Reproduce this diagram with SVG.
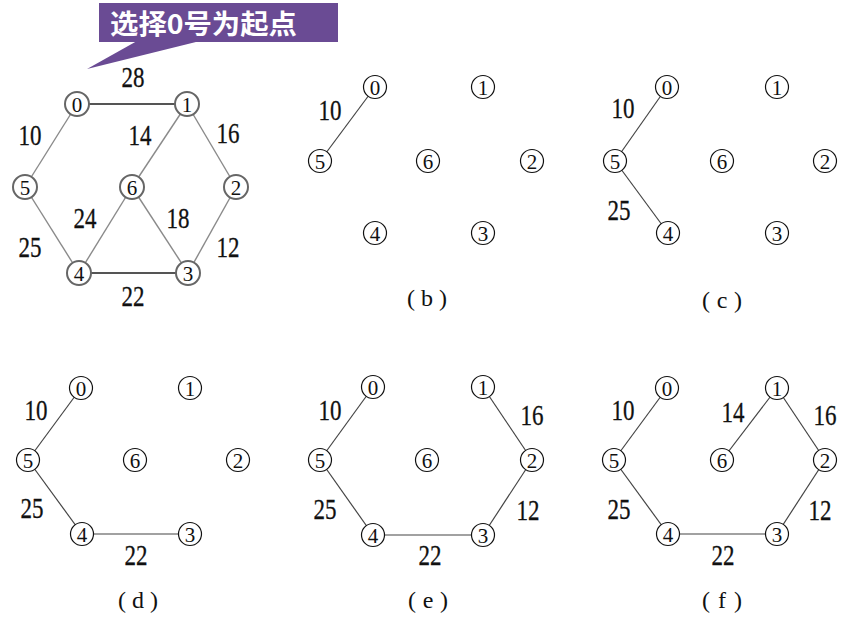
<svg xmlns="http://www.w3.org/2000/svg" width="865" height="634" viewBox="0 0 865 634">
<style>
.e{stroke:#444;stroke-width:1.2;fill:none}
.ea{stroke:#8a8a8a;stroke-width:1.4;fill:none}
.eh{stroke:#555;stroke-width:2;fill:none}
.n circle{fill:#fff;stroke:#111;stroke-width:1.2}
.na circle{fill:#fff;stroke:#666;stroke-width:2}
.n text,.na text{font-family:"Liberation Serif",serif;font-size:21px;text-anchor:middle;fill:#111}
.w{font-family:"Liberation Serif",serif;font-size:30px;text-anchor:middle;fill:#111;stroke:#111;stroke-width:0.3}
.cap{font-family:"Liberation Serif",serif;font-size:24px;text-anchor:middle;fill:#111}
</style>
<rect width="865" height="634" fill="#fff"/>
<g id="callout">
<rect x="99" y="3" width="239" height="39" fill="#6a4b94"/>
<polygon points="137,41 200,41 87,69" fill="#6a4b94"/>
<text x="110" y="34" font-family="Noto Sans CJK SC,sans-serif" font-weight="bold" font-size="27" fill="#fff" textLength="187" lengthAdjust="spacingAndGlyphs">选择0号为起点</text>
</g>
<g id="connectors">
<line class="eh" x1="77" y1="104" x2="187" y2="104"/>
<line class="ea" x1="77" y1="104" x2="25" y2="187"/>
<line class="ea" x1="187" y1="104" x2="132" y2="187"/>
<line class="ea" x1="187" y1="104" x2="236" y2="187"/>
<line class="ea" x1="25" y1="187" x2="79" y2="273"/>
<line class="ea" x1="132" y1="187" x2="79" y2="273"/>
<line class="ea" x1="132" y1="187" x2="188" y2="273"/>
<line class="ea" x1="236" y1="187" x2="188" y2="273"/>
<line class="eh" x1="79" y1="273" x2="188" y2="273"/>
<line class="e" x1="375" y1="87" x2="320" y2="161"/>
<line class="e" x1="667" y1="87" x2="615" y2="161"/>
<line class="e" x1="615" y1="161" x2="668" y2="233"/>
<line class="e" x1="81" y1="388" x2="28" y2="460"/>
<line class="e" x1="28" y1="460" x2="82" y2="534"/>
<line class="e" x1="82" y1="534" x2="190" y2="534"/>
<line class="e" x1="373" y1="387" x2="320" y2="460"/>
<line class="e" x1="320" y1="460" x2="373" y2="535"/>
<line class="e" x1="373" y1="535" x2="483" y2="535"/>
<line class="e" x1="483" y1="535" x2="532" y2="460"/>
<line class="e" x1="532" y1="460" x2="483" y2="387"/>
<line class="e" x1="667" y1="388" x2="614" y2="460"/>
<line class="e" x1="614" y1="460" x2="668" y2="534"/>
<line class="e" x1="668" y1="534" x2="777" y2="534"/>
<line class="e" x1="777" y1="534" x2="825" y2="460"/>
<line class="e" x1="825" y1="460" x2="777" y2="388"/>
<line class="e" x1="777" y1="388" x2="722" y2="460"/>
</g>
<g id="graph-a">
<g id="a0" class="na" transform="translate(77,104)"><circle r="12"/><text y="7.5">0</text></g>
<g id="a1" class="na" transform="translate(187,104)"><circle r="12"/><text y="7.5">1</text></g>
<g id="a5" class="na" transform="translate(25,187)"><circle r="12"/><text y="7.5">5</text></g>
<g id="a6" class="na" transform="translate(132,187)"><circle r="12"/><text y="7.5">6</text></g>
<g id="a2" class="na" transform="translate(236,187)"><circle r="12"/><text y="7.5">2</text></g>
<g id="a4" class="na" transform="translate(79,273)"><circle r="12"/><text y="7.5">4</text></g>
<g id="a3" class="na" transform="translate(188,273)"><circle r="12"/><text y="7.5">3</text></g>
<text class="w" x="133" y="87" textLength="23" lengthAdjust="spacingAndGlyphs">28</text>
<text class="w" x="30" y="145" textLength="23" lengthAdjust="spacingAndGlyphs">10</text>
<text class="w" x="140" y="145" textLength="23" lengthAdjust="spacingAndGlyphs">14</text>
<text class="w" x="228" y="143" textLength="23" lengthAdjust="spacingAndGlyphs">16</text>
<text class="w" x="85" y="228" textLength="23" lengthAdjust="spacingAndGlyphs">24</text>
<text class="w" x="178" y="228" textLength="23" lengthAdjust="spacingAndGlyphs">18</text>
<text class="w" x="30" y="257" textLength="23" lengthAdjust="spacingAndGlyphs">25</text>
<text class="w" x="228" y="257" textLength="23" lengthAdjust="spacingAndGlyphs">12</text>
<text class="w" x="133" y="306" textLength="23" lengthAdjust="spacingAndGlyphs">22</text>
</g>
<g id="graph-b">
<g id="b0" class="n" transform="translate(375,87)"><circle r="11.5"/><text y="7.5">0</text></g>
<g id="b1" class="n" transform="translate(483,87)"><circle r="11.5"/><text y="7.5">1</text></g>
<g id="b5" class="n" transform="translate(320,161)"><circle r="11.5"/><text y="7.5">5</text></g>
<g id="b6" class="n" transform="translate(428,161)"><circle r="11.5"/><text y="7.5">6</text></g>
<g id="b2" class="n" transform="translate(532,161)"><circle r="11.5"/><text y="7.5">2</text></g>
<g id="b4" class="n" transform="translate(375,233)"><circle r="11.5"/><text y="7.5">4</text></g>
<g id="b3" class="n" transform="translate(483,233)"><circle r="11.5"/><text y="7.5">3</text></g>
<text class="w" x="330" y="120" textLength="23" lengthAdjust="spacingAndGlyphs">10</text>
<text class="cap" x="427" y="306" textLength="40" lengthAdjust="spacing">(b)</text>
</g>
<g id="graph-c">
<g id="c0" class="n" transform="translate(667,87)"><circle r="11.5"/><text y="7.5">0</text></g>
<g id="c1" class="n" transform="translate(777,87)"><circle r="11.5"/><text y="7.5">1</text></g>
<g id="c5" class="n" transform="translate(615,161)"><circle r="11.5"/><text y="7.5">5</text></g>
<g id="c6" class="n" transform="translate(722,161)"><circle r="11.5"/><text y="7.5">6</text></g>
<g id="c2" class="n" transform="translate(825,161)"><circle r="11.5"/><text y="7.5">2</text></g>
<g id="c4" class="n" transform="translate(668,233)"><circle r="11.5"/><text y="7.5">4</text></g>
<g id="c3" class="n" transform="translate(777,233)"><circle r="11.5"/><text y="7.5">3</text></g>
<text class="w" x="623" y="118" textLength="23" lengthAdjust="spacingAndGlyphs">10</text>
<text class="w" x="619" y="220" textLength="23" lengthAdjust="spacingAndGlyphs">25</text>
<text class="cap" x="722" y="308" textLength="40" lengthAdjust="spacing">(c)</text>
</g>
<g id="graph-d">
<g id="d0" class="n" transform="translate(81,388)"><circle r="11.5"/><text y="7.5">0</text></g>
<g id="d1" class="n" transform="translate(190,388)"><circle r="11.5"/><text y="7.5">1</text></g>
<g id="d5" class="n" transform="translate(28,460)"><circle r="11.5"/><text y="7.5">5</text></g>
<g id="d6" class="n" transform="translate(135,460)"><circle r="11.5"/><text y="7.5">6</text></g>
<g id="d2" class="n" transform="translate(238,460)"><circle r="11.5"/><text y="7.5">2</text></g>
<g id="d4" class="n" transform="translate(82,534)"><circle r="11.5"/><text y="7.5">4</text></g>
<g id="d3" class="n" transform="translate(190,534)"><circle r="11.5"/><text y="7.5">3</text></g>
<text class="w" x="36" y="420" textLength="23" lengthAdjust="spacingAndGlyphs">10</text>
<text class="w" x="32" y="518" textLength="23" lengthAdjust="spacingAndGlyphs">25</text>
<text class="w" x="136" y="565" textLength="23" lengthAdjust="spacingAndGlyphs">22</text>
<text class="cap" x="138" y="608" textLength="40" lengthAdjust="spacing">(d)</text>
</g>
<g id="graph-e">
<g id="e0" class="n" transform="translate(373,387)"><circle r="11.5"/><text y="7.5">0</text></g>
<g id="e1" class="n" transform="translate(483,387)"><circle r="11.5"/><text y="7.5">1</text></g>
<g id="e5" class="n" transform="translate(320,460)"><circle r="11.5"/><text y="7.5">5</text></g>
<g id="e6" class="n" transform="translate(427,460)"><circle r="11.5"/><text y="7.5">6</text></g>
<g id="e2" class="n" transform="translate(532,460)"><circle r="11.5"/><text y="7.5">2</text></g>
<g id="e4" class="n" transform="translate(373,535)"><circle r="11.5"/><text y="7.5">4</text></g>
<g id="e3" class="n" transform="translate(483,535)"><circle r="11.5"/><text y="7.5">3</text></g>
<text class="w" x="330" y="420" textLength="23" lengthAdjust="spacingAndGlyphs">10</text>
<text class="w" x="532" y="425" textLength="23" lengthAdjust="spacingAndGlyphs">16</text>
<text class="w" x="325" y="519" textLength="23" lengthAdjust="spacingAndGlyphs">25</text>
<text class="w" x="528" y="520" textLength="23" lengthAdjust="spacingAndGlyphs">12</text>
<text class="w" x="430" y="565" textLength="23" lengthAdjust="spacingAndGlyphs">22</text>
<text class="cap" x="428" y="608" textLength="40" lengthAdjust="spacing">(e)</text>
</g>
<g id="graph-f">
<g id="f0" class="n" transform="translate(667,388)"><circle r="11.5"/><text y="7.5">0</text></g>
<g id="f1" class="n" transform="translate(777,388)"><circle r="11.5"/><text y="7.5">1</text></g>
<g id="f5" class="n" transform="translate(614,460)"><circle r="11.5"/><text y="7.5">5</text></g>
<g id="f6" class="n" transform="translate(722,460)"><circle r="11.5"/><text y="7.5">6</text></g>
<g id="f2" class="n" transform="translate(825,460)"><circle r="11.5"/><text y="7.5">2</text></g>
<g id="f4" class="n" transform="translate(668,534)"><circle r="11.5"/><text y="7.5">4</text></g>
<g id="f3" class="n" transform="translate(777,534)"><circle r="11.5"/><text y="7.5">3</text></g>
<text class="w" x="623" y="420" textLength="23" lengthAdjust="spacingAndGlyphs">10</text>
<text class="w" x="733" y="422" textLength="23" lengthAdjust="spacingAndGlyphs">14</text>
<text class="w" x="825" y="425" textLength="23" lengthAdjust="spacingAndGlyphs">16</text>
<text class="w" x="619" y="519" textLength="23" lengthAdjust="spacingAndGlyphs">25</text>
<text class="w" x="820" y="520" textLength="23" lengthAdjust="spacingAndGlyphs">12</text>
<text class="w" x="723" y="565" textLength="23" lengthAdjust="spacingAndGlyphs">22</text>
<text class="cap" x="722" y="608" textLength="40" lengthAdjust="spacing">(f)</text>
</g>
</svg>
